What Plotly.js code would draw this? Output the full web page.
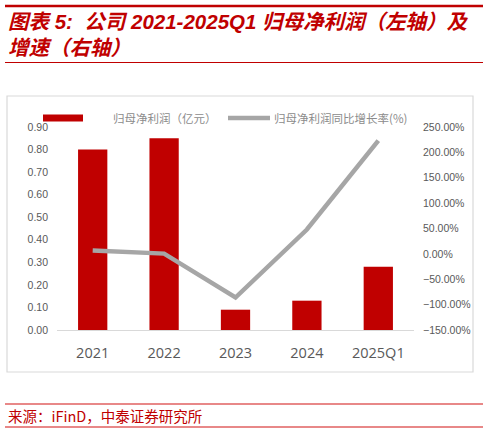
<!DOCTYPE html>
<html>
<head>
<meta charset="utf-8">
<script src="https://cdn.plot.ly/plotly-3.0.1.min.js"></script>
<style>
  html, body { margin: 0; padding: 0; background: #fff; }
  #chart { width: 488px; height: 433px; }
</style>
</head>
<body>
<div id="chart"></div>
<script>
// values
var periods = ['2021', '2022', '2023', '2024', '2025Q1'];
var netProfit = [0.80, 0.85, 0.09, 0.13, 0.28];      // 亿元, left axis
var growth = [0.065, 0.005, -0.86, 0.48, 2.23];       // yoy, right axis
var leftTicks = [0, 0.1, 0.2, 0.3, 0.4, 0.5, 0.6, 0.7, 0.8, 0.9];
var rightTicks = [-1.5, -1.0, -0.5, 0, 0.5, 1.0, 1.5, 2.0, 2.5];

var W = 488, H = 433;
function px(x) { return x / W; }
function py(y) { return 1 - y / H; }

var red = '#c00000';
var grey = '#a6a6a6';
var cjk = '"Noto Sans CJK SC", "Liberation Sans", sans-serif';
var heading = '"Liberation Sans", "Noto Sans CJK SC", sans-serif';
var tickFont = { family: '"Liberation Sans", "Noto Sans CJK SC", sans-serif', size: 10.5, color: '#595959' };

var bars = {
  x: periods,
  y: netProfit,
  name: '归母净利润（亿元）',
  type: 'bar',
  width: 0.41,
  marker: { color: red },
  hoverinfo: 'skip'
};

var line = {
  x: periods,
  y: growth,
  name: '归母净利润同比增长率(%)',
  type: 'scatter',
  mode: 'lines',
  yaxis: 'y2',
  line: { color: grey, width: 4.5 },
  hoverinfo: 'skip'
};

var layout = {
  width: W,
  height: H,
  margin: { l: 0, r: 0, t: 0, b: 0 },
  paper_bgcolor: '#fff',
  plot_bgcolor: 'rgba(0,0,0,0)',
  showlegend: false,
  xaxis: {
    type: 'category',
    domain: [px(57), px(414)],
    showline: true,
    linecolor: '#d9d9d9',
    linewidth: 1,
    showgrid: false,
    ticks: '',
    tickfont: { family: '"Open Sans", "Liberation Sans", sans-serif', size: 14.5, color: '#595959' },
    ticklabelstandoff: 10
  },
  yaxis: {
    domain: [py(330), py(127)],
    range: [0, 0.9],
    tickvals: leftTicks,
    tickformat: '.2f',
    showgrid: false,
    zeroline: false,
    showline: false,
    ticks: '',
    tickfont: tickFont,
    ticklabelstandoff: 8
  },
  yaxis2: {
    overlaying: 'y',
    side: 'right',
    anchor: 'x',
    range: [-1.5, 2.5],
    tickvals: rightTicks,
    tickformat: '.2%',
    showgrid: false,
    zeroline: false,
    showline: false,
    ticks: '',
    tickfont: tickFont,
    ticklabelstandoff: 8
  },
  shapes: [
    // red rules around the heading
    { type: 'line', xref: 'paper', yref: 'paper', x0: px(5), x1: px(483), y0: py(6), y1: py(6), line: { color: red, width: 2.5 } },
    { type: 'line', xref: 'paper', yref: 'paper', x0: px(5), x1: px(483), y0: py(62.5), y1: py(62.5), line: { color: red, width: 1.2 } },
    // chart frame
    { type: 'rect', xref: 'paper', yref: 'paper', x0: px(7), x1: px(473), y0: py(372), y1: py(96), line: { color: '#d9d9d9', width: 1.2 } },
    // legend symbols
    { type: 'rect', xref: 'paper', yref: 'paper', x0: px(43), x1: px(83), y0: py(121.5), y1: py(114.5), fillcolor: red, line: { width: 0 } },
    { type: 'line', xref: 'paper', yref: 'paper', x0: px(228), x1: px(270), y0: py(118), y1: py(118), line: { color: grey, width: 4.5 } },
    // source rules
    { type: 'line', xref: 'paper', yref: 'paper', x0: px(5), x1: px(483), y0: py(404), y1: py(404), line: { color: '#e06060', width: 1.5 } },
    { type: 'line', xref: 'paper', yref: 'paper', x0: px(5), x1: px(483), y0: py(427), y1: py(427), line: { color: '#e06060', width: 1.5 } }
  ],
  annotations: [
    { xref: 'paper', yref: 'paper', x: px(6), y: py(22), xanchor: 'left', yanchor: 'middle', showarrow: false,
      text: '<b><i>图表 5:  公司 2021-2025Q1 归母净利润（左轴）及</i></b>',
      font: { family: heading, size: 20.5, color: red } },
    { xref: 'paper', yref: 'paper', x: px(6), y: py(48), xanchor: 'left', yanchor: 'middle', showarrow: false,
      text: '<b><i>增速（右轴）</i></b>',
      font: { family: heading, size: 20.5, color: red } },
    { xref: 'paper', yref: 'paper', x: px(111), y: py(118), xanchor: 'left', yanchor: 'middle', showarrow: false,
      text: '归母净利润（亿元）',
      font: { family: cjk, size: 11.5, color: '#8c8c8c' } },
    { xref: 'paper', yref: 'paper', x: px(272), y: py(118), xanchor: 'left', yanchor: 'middle', showarrow: false,
      text: '归母净利润同比增长率(%)',
      font: { family: cjk, size: 11.5, color: '#8c8c8c' } },
    { xref: 'paper', yref: 'paper', x: px(6), y: py(415.5), xanchor: 'left', yanchor: 'middle', showarrow: false,
      text: '来源：iFinD，中泰证券研究所',
      font: { family: cjk, size: 14.5, color: red } }
  ]
};

Plotly.newPlot('chart', [bars, line], layout, { staticPlot: true, displayModeBar: false });
</script>
</body>
</html>
